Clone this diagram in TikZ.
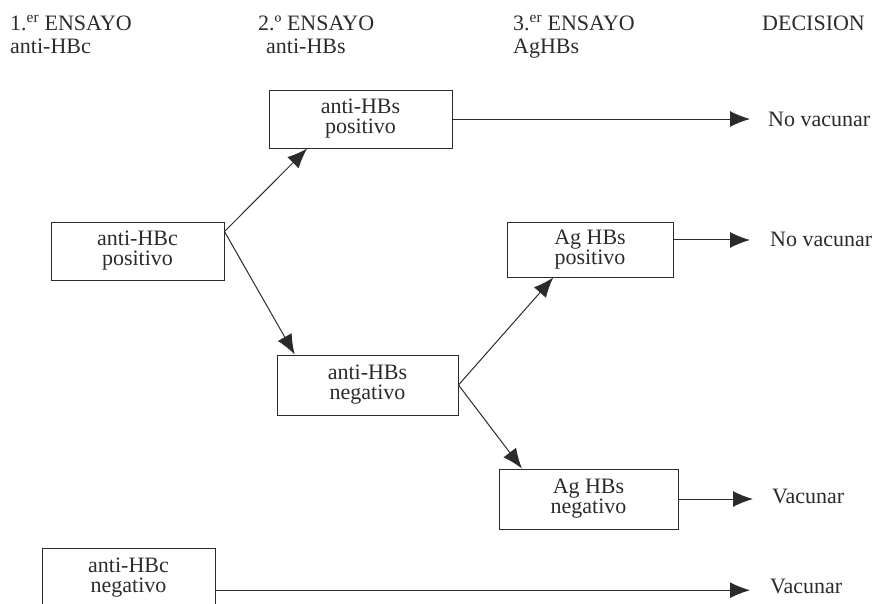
\documentclass[tikz,border=0pt]{standalone}
\usepackage{fontspec}
\setmainfont{Liberation Serif}
\usetikzlibrary{positioning,arrows.meta,calc}
\definecolor{hbink}{HTML}{2B2B2B}

\begin{document}
\begin{tikzpicture}[x=1pt,y=-1pt,font=\fontsize{22}{20}\selectfont,>={Latex[length=20pt,width=16pt]},hbink]
  \tikzstyle{test}=[draw,line width=1pt,align=center,inner sep=0pt]
  \tikzstyle{head}=[anchor=base west,inner sep=0pt]
  \tikzstyle{verdict}=[anchor=west,inner sep=0pt]
  \tikzstyle{link}=[->,line width=1pt]
  \useasboundingbox (0,0) rectangle (878,603);
  % column headings
  \node[head] (h1a) at (10,30) {1.\textsuperscript{er} ENSAYO};
  \node[head] (h1b) at (10,53) {anti-HBc};
  \node[head] (h2a) at (258,30) {2.º ENSAYO};
  \node[head] (h2b) at (266,53) {anti-HBs};
  \node[head] (h3a) at (513,30) {3.\textsuperscript{er} ENSAYO};
  \node[head] (h3b) at (513,53) {AgHBs};
  \node[head] (h4a) at (762,30) {DECISION};
  % test boxes
  \node[test,minimum width=173pt,minimum height=58pt] (hbcp) at (137.5,251) {anti-HBc\\positivo};
  \node[test,minimum width=183pt,minimum height=58pt] (hbsp) at (360.5,119) {anti-HBs\\positivo};
  \node[test,minimum width=181pt,minimum height=60pt] (hbsn) at (367.5,385) {anti-HBs\\negativo};
  \node[test,minimum width=166pt,minimum height=55pt] (agp) at (590,249.5) {Ag HBs\\positivo};
  \node[test,minimum width=179pt,minimum height=60pt] (agn) at (588.5,499) {Ag HBs\\negativo};
  \node[test,minimum width=173pt,minimum height=60pt] (hbcn) at (128.5,578) {anti-HBc\\negativo};
  % decisions
  \node[verdict] (d1) at (768,119) {No vacunar};
  \node[verdict] (d2) at (770,239) {No vacunar};
  \node[verdict] (d3) at (772,496) {Vacunar};
  \node[verdict] (d4) at (770,586) {Vacunar};
  % branch points
  \coordinate (hbcpout) at ($(hbcp.north east)!0.17!(hbcp.south east)$);
  \coordinate (hbspin) at ($(hbsp.south west)!0.21!(hbsp.south east)$);
  \coordinate (hbsnin) at ($(hbsn.north west)!0.10!(hbsn.north east)$);
  \coordinate (agpin) at ($(agp.south west)!0.28!(agp.south east)$);
  \coordinate (agnin) at ($(agn.north west)!0.13!(agn.north east)$);
  \coordinate (agpout) at ($(agp.north east)!0.33!(agp.south east)$);
  \coordinate (hbcnout) at ($(hbcn.north east)!0.70!(hbcn.south east)$);
  \draw[link] (hbcpout) -- (hbspin);
  \draw[link] (hbcpout) -- (hbsnin);
  \draw[link] (hbsn.east) -- (agpin);
  \draw[link] (hbsn.east) -- (agnin);
  % to the decisions
  \draw[link,shorten >=18pt] (hbsp.east) -- (hbsp.east -| d1.west);
  \draw[link,shorten >=20pt] (agpout) -- (agpout -| d2.west);
  \draw[link,shorten >=19pt] (agn.east) -- (agn.east -| d3.west);
  \draw[link,shorten >=20pt] (hbcnout) -- (hbcnout -| d4.west);
\end{tikzpicture}
\end{document}
